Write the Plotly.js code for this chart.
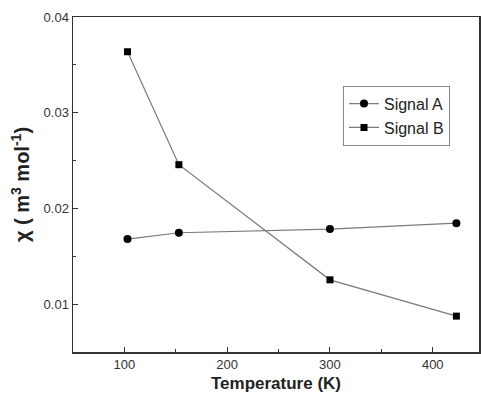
<!DOCTYPE html>
<html>
<head>
<meta charset="utf-8">
<script src="https://cdn.plot.ly/plotly-3.0.1.min.js"></script>
<style>html,body{margin:0;padding:0;background:#fff;}#chart{width:481px;height:402px;}</style>
</head>
<body>
<div id="chart"></div>
<script>
var temperature = [103, 153, 300, 423];
var signalA = [0.0168, 0.01746, 0.01784, 0.01846];
var signalB = [0.03637, 0.02457, 0.01254, 0.00875];
var seriesNames = ["Signal A", "Signal B"];
var xTickVals = [100, 200, 300, 400];
var yTickVals = [0.01, 0.02, 0.03, 0.04];

var traces = [
  {x: temperature, y: signalA, name: seriesNames[0], type: 'scatter', mode: 'lines+markers',
   line: {color: '#7a7a7a', width: 1.2}, marker: {symbol: 'circle', size: 8, color: '#000'}},
  {x: temperature, y: signalB, name: seriesNames[1], type: 'scatter', mode: 'lines+markers',
   line: {color: '#7a7a7a', width: 1.2}, marker: {symbol: 'square', size: 7, color: '#000'}}
];

var layout = {
  width: 481, height: 402,
  margin: {l: 73, r: 2, t: 17, b: 50, pad: 0},
  paper_bgcolor: '#fff', plot_bgcolor: '#fff',
  font: {family: 'Arial, Liberation Sans, sans-serif', size: 13, color: '#333'},
  showlegend: true,
  legend: {x: 0.665, y: 0.795, xanchor: 'left', yanchor: 'top', bgcolor: '#fff',
           bordercolor: '#888', borderwidth: 1, font: {size: 16, color: '#222'},
           tracegroupgap: 0, itemwidth: 30},
  xaxis: {
    range: [50, 445], showgrid: false, zeroline: false,
    showline: true, linecolor: '#333', linewidth: 1.5, mirror: true,
    ticks: 'inside', ticklen: 5, tickwidth: 1, tickcolor: '#333',
    tickvals: xTickVals, ticktext: xTickVals.map(String),
    minor: {ticks: 'inside', ticklen: 3, tickcolor: '#333', dtick: 50, tick0: 0},
    tickfont: {size: 13, color: '#333'},
    title: {text: '<b>Temperature (K)</b>', font: {size: 17, color: '#222'}, standoff: 6}
  },
  yaxis: {
    range: [0.005, 0.04], showgrid: false, zeroline: false,
    showline: true, linecolor: '#333', linewidth: 1.5, mirror: true,
    ticks: 'inside', ticklen: 5, tickwidth: 1, tickcolor: '#333',
    tickvals: yTickVals, ticktext: yTickVals.map(function(v){return v.toFixed(2);}),
    minor: {ticks: 'inside', ticklen: 3, tickcolor: '#333', dtick: 0.005, tick0: 0},
    tickfont: {size: 13, color: '#333'},
    title: {text: '<b>χ ( m<sup>3</sup> mol<sup>-1</sup>)</b>', font: {size: 20, color: '#222'}, standoff: 8}
  }
};

Plotly.newPlot('chart', traces, layout, {displayModeBar: false, staticPlot: true});
</script>
</body>
</html>
